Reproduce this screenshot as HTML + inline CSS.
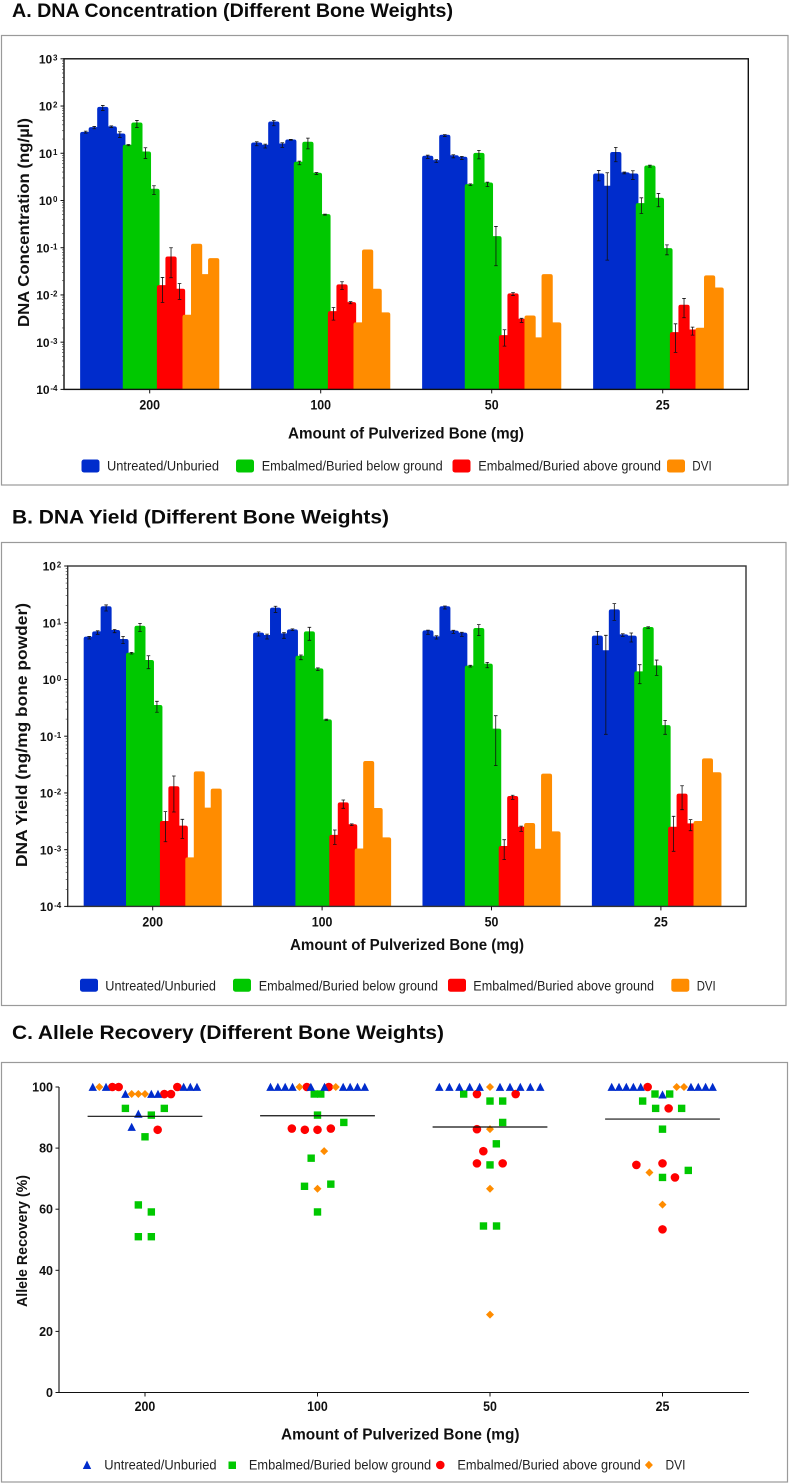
<!DOCTYPE html>
<html lang="en">
<head>
<meta charset="utf-8">
<title>DNA Concentration, Yield and Allele Recovery</title>
<style>
html,body{margin:0;padding:0;background:#fff;width:790px;height:1484px;overflow:hidden}
svg{display:block;filter:blur(0.3px)}
text{font-family:"Liberation Sans",Arial,sans-serif;fill:#111}
.ttl{font-size:19.5px;font-weight:bold;fill:#0a0a0a}
.axt{font-size:15.5px;font-weight:bold}
.leg{font-size:13.5px;fill:#222}
.frame{fill:#fff;stroke:#9a9a9a;stroke-width:1.2}
</style>
</head>
<body>
<svg id="page" xmlns="http://www.w3.org/2000/svg" width="790" height="1484" viewBox="0 0 790 1484">
  <rect width="790" height="1484" fill="#fff"/>

  <text class="ttl" x="12" y="17" textLength="441" lengthAdjust="spacingAndGlyphs">A. DNA Concentration (Different Bone Weights)</text>
  <rect class="frame" x="1.5" y="35.5" width="786.5" height="449.5"/>
  <g id="chartA"></g>
  <text class="axt" x="288" y="438.5" textLength="236" lengthAdjust="spacingAndGlyphs">Amount of Pulverized Bone (mg)</text>
  <text class="axt" transform="translate(29,327) rotate(-90)" textLength="209" lengthAdjust="spacingAndGlyphs">DNA Concentration (ng/µl)</text>
  <g>
    <rect x="81.5" y="459.5" width="18" height="13" rx="2.5" fill="#002ccc"/>
    <text class="leg" x="107" y="470.5" textLength="112" lengthAdjust="spacingAndGlyphs">Untreated/Unburied</text>
    <rect x="236" y="459.5" width="18" height="13" rx="2.5" fill="#00c800"/>
    <text class="leg" x="261.7" y="470.5" textLength="181" lengthAdjust="spacingAndGlyphs">Embalmed/Buried below ground</text>
    <rect x="452.5" y="459.5" width="18" height="13" rx="2.5" fill="#ff0000"/>
    <text class="leg" x="478.3" y="470.5" textLength="182.7" lengthAdjust="spacingAndGlyphs">Embalmed/Buried above ground</text>
    <rect x="667" y="459.5" width="18" height="13" rx="2.5" fill="#ff8c00"/>
    <text class="leg" x="692.3" y="470.5" textLength="19.4" lengthAdjust="spacingAndGlyphs">DVI</text>
  </g>

  <text class="ttl" x="12" y="523.5" textLength="377" lengthAdjust="spacingAndGlyphs">B. DNA Yield (Different Bone Weights)</text>
  <rect class="frame" x="1.5" y="542.5" width="784.5" height="463"/>
  <g id="chartB"></g>
  <text class="axt" x="290" y="950" textLength="234" lengthAdjust="spacingAndGlyphs">Amount of Pulverized Bone (mg)</text>
  <text class="axt" transform="translate(27,867) rotate(-90)" textLength="264" lengthAdjust="spacingAndGlyphs">DNA Yield (ng/mg bone powder)</text>
  <g>
    <rect x="80" y="978.7" width="18" height="13" rx="2.5" fill="#002ccc"/>
    <text class="leg" x="105.3" y="990.5" textLength="110.7" lengthAdjust="spacingAndGlyphs">Untreated/Unburied</text>
    <rect x="233" y="978.7" width="18" height="13" rx="2.5" fill="#00c800"/>
    <text class="leg" x="258.7" y="990.5" textLength="179.3" lengthAdjust="spacingAndGlyphs">Embalmed/Buried below ground</text>
    <rect x="448" y="978.7" width="18" height="13" rx="2.5" fill="#ff0000"/>
    <text class="leg" x="473.3" y="990.5" textLength="180.7" lengthAdjust="spacingAndGlyphs">Embalmed/Buried above ground</text>
    <rect x="671.3" y="978.7" width="18" height="13" rx="2.5" fill="#ff8c00"/>
    <text class="leg" x="696.7" y="990.5" textLength="19" lengthAdjust="spacingAndGlyphs">DVI</text>
  </g>

  <text class="ttl" x="12" y="1039" textLength="432" lengthAdjust="spacingAndGlyphs">C. Allele Recovery (Different Bone Weights)</text>
  <rect class="frame" x="1.5" y="1062.5" width="786" height="419.5"/>
  <g id="chartC"></g>
  <text class="axt" x="281" y="1439.5" textLength="238.5" lengthAdjust="spacingAndGlyphs">Amount of Pulverized Bone (mg)</text>
  <text class="axt" transform="translate(27,1307) rotate(-90)" textLength="132" lengthAdjust="spacingAndGlyphs" style="font-size:14.5px">Allele Recovery (%)</text>
  <g>
    <polygon points="87,1460.5 91.2,1469 82.8,1469" fill="#002ccc"/>
    <text class="leg" x="104.3" y="1469.3" textLength="112.3" lengthAdjust="spacingAndGlyphs">Untreated/Unburied</text>
    <rect x="228.5" y="1461.5" width="7.5" height="7.5" fill="#00c800"/>
    <text class="leg" x="248.9" y="1469.3" textLength="182.3" lengthAdjust="spacingAndGlyphs">Embalmed/Buried below ground</text>
    <circle cx="440.3" cy="1465" r="4.3" fill="#ff0000"/>
    <text class="leg" x="457.4" y="1469.3" textLength="183.4" lengthAdjust="spacingAndGlyphs">Embalmed/Buried above ground</text>
    <polygon points="648.9,1460.8 652.9,1465 648.9,1469.2 644.9,1465" fill="#ff8c00"/>
    <text class="leg" x="665.5" y="1469.3" textLength="20" lengthAdjust="spacingAndGlyphs">DVI</text>
  </g>
</svg>

<script>
// ---- shared categories ----
const boneWeights = ['200', '100', '50', '25'];
const seriesColors = ['#002ccc', '#00c800', '#ff0000', '#ff8c00'];
const seriesNames = ['untreated', 'below-ground', 'above-ground', 'dvi'];
const seriesBarCounts = [5, 4, 3, 4];

// ---- panel A: DNA concentration (ng/ul), one row per bone weight ----
const concMeans = [
  [28.4, 35.7, 96, 37, 26.2, 15.1, 44.9, 10.9, 1.77, 0.0161, 0.0653, 0.0135, 0.0038, 0.121, 0.0276, 0.0603],
  [16.9, 15.1, 47.1, 16.1, 19.6, 6.59, 17.5, 3.86, 0.514, 0.00455, 0.0167, 0.00705, 0.00262, 0.0918, 0.0135, 0.00427],
  [8.83, 7.16, 24.6, 9.1, 8.41, 2.22, 10.2, 2.41, 0.176, 0.00141, 0.0108, 0.00313, 0.00368, 0.00126, 0.0276, 0.00262],
  [3.73, 2.05, 10.6, 3.93, 3.73, 0.879, 5.52, 1.14, 0.098, 0.00163, 0.00619, 0.00186, 0.00202, 0.0259, 0.0144]
];
const concErrHigh = [
  [29.4, 37, 103, 38, 28.5, 15.3, 49.5, 13.1, 2.05, 0.0235, 0.0997, 0.0175],
  [17.5, 15.6, 49.4, 16.7, 19.7, 6.8, 20.9, 3.9, 0.515, 0.00543, 0.019, 0.0072],
  [9.1, 7.3, 24.8, 9.3, 8.6, 2.25, 11.5, 2.45, 0.282, 0.00183, 0.0112, 0.0032],
  [4.33, 3.86, 13.3, 4, 4.26, 1.14, 5.6, 1.41, 0.115, 0.00245, 0.00843, 0.00208]
];
const concErrLow = [
  [26.7, 33, 80.6, 35, 21.6, 14.4, 35.2, 7.76, 1.34, 0.00693, 0.0231, 0.008],
  [14.4, 12.9, 38.2, 13.3, 18.9, 5.7, 12.4, 3.56, 0.49, 0.00293, 0.0131, 0.0065],
  [7.76, 6.38, 22.7, 8, 7.4, 2.08, 7.6, 1.98, 0.0415, 0.000826, 0.00975, 0.00262],
  [2.61, 0.0546, 6.6, 3.67, 2.79, 0.531, 5.08, 0.736, 0.0708, 0.000607, 0.00329, 0.00141]
];
const concExponents = [3, 2, 1, 0, -1, -2, -3, -4];

// ---- panel B: DNA yield (ng/mg bone powder) ----
const yieldMeans = [
  [5.68, 7.05, 19.5, 7.45, 5.17, 2.96, 8.87, 2.2, 0.355, 0.0032, 0.0131, 0.00265, 0.00073, 0.024, 0.0055, 0.0119],
  [6.68, 6.08, 18.5, 6.5, 7.65, 2.62, 7.05, 1.57, 0.198, 0.00182, 0.00682, 0.0028, 0.00105, 0.0366, 0.00542, 0.00165],
  [7.35, 5.75, 19.5, 7.25, 6.68, 1.75, 8.07, 1.9, 0.136, 0.00116, 0.00883, 0.00254, 0.00295, 0.00104, 0.0219, 0.0021],
  [5.92, 3.27, 17.2, 6.25, 5.92, 1.39, 8.41, 1.77, 0.157, 0.00254, 0.0097, 0.00291, 0.0032, 0.0407, 0.0231]
];
const yieldErrHigh = [
  [5.75, 7.2, 20.6, 7.6, 5.75, 3, 9.75, 2.62, 0.412, 0.00468, 0.0199, 0.00343],
  [6.9, 6.3, 19.5, 6.68, 7.8, 2.7, 8.3, 1.6, 0.2, 0.00222, 0.0075, 0.00285],
  [7.4, 5.9, 19.7, 7.35, 6.8, 1.78, 9.25, 2, 0.23, 0.0015, 0.0091, 0.0026],
  [7.05, 6, 21.7, 6.4, 6.59, 1.82, 8.5, 2.2, 0.19, 0.00387, 0.0134, 0.00338]
];
const yieldErrLow = [
  [5.17, 6.25, 16.1, 6.68, 4.28, 2.81, 7.05, 1.55, 0.264, 0.00138, 0.00461, 0.00158],
  [5.83, 5.17, 15.2, 5.31, 7.3, 2.23, 4.9, 1.43, 0.19, 0.00124, 0.00536, 0.00265],
  [6.25, 5.17, 17.5, 6.5, 5.75, 1.66, 5.92, 1.61, 0.0303, 0.000667, 0.0077, 0.0021],
  [4.16, 0.108, 11, 5.75, 4.57, 0.843, 7.96, 1.18, 0.108, 0.000935, 0.00507, 0.00216]
];
const yieldExponents = [2, 1, 0, -1, -2, -3, -4];

// ---- panel C: allele recovery (%), values and beeswarm column per bone weight ----
const recoveryTicks = [0, 20, 40, 60, 80, 100];
const recoveryMeans = [90.4, 90.6, 86.9, 89.5];
const untreatedValues = [
  [100, 100, 100, 100, 100, 97.7, 97.7, 97.7, 91.2, 86.9],
  [100, 100, 100, 100, 100, 100, 100, 100, 100, 100],
  [100, 100, 100, 100, 100, 100, 100, 100, 100, 100],
  [100, 100, 100, 100, 100, 100, 100, 100, 100, 97.5]
];
const untreatedColumns = [
  [-8, -5.97, 5.92, 6.94, 7.96, -3, 0.97, 1.99, -1.02, -2.04],
  [-7.2, -6.07, -4.95, -3.83, -1.02, 1.07, 3.93, 5, 6.12, 7.24],
  [-7.76, -6.22, -4.69, -3.11, -1.58, 1.53, 3.06, 4.64, 6.17, 7.7],
  [-7.78, -6.66, -5.54, -4.46, -3.34, 4.36, 5.48, 6.6, 7.68, 0]
];
const belowGroundValues = [
  [93, 93, 90.8, 83.7, 61.4, 59.1, 51, 51],
  [97.7, 97.7, 90.8, 88.4, 76.7, 68.2, 67.5, 59.1],
  [97.7, 95.4, 95.4, 88.4, 81.4, 74.5, 54.5, 54.5],
  [97.7, 97.7, 95.4, 93, 93, 86.2, 72.7, 70.4]
];
const belowGroundColumns = [
  [-3, 2.96, 0.97, 0, -1.02, 0.97, -1.02, 0.97],
  [-0.5, 0.5, 0, 4.03, -0.97, 2.04, -1.99, 0],
  [-4.03, 0, 1.94, 1.94, 0.97, 0, -1, 1],
  [-1.15, 1.1, -3.04, -1.05, 2.93, 0, 3.95, 0]
];
const aboveGroundValues = [
  [100, 100, 100, 97.7, 97.7, 86],
  [100, 100, 86.4, 86, 86, 86.4],
  [97.7, 97.7, 86.2, 79, 75, 75],
  [100, 93, 75, 74.5, 70.4, 53.4]
];
const aboveGroundColumns = [
  [-5, -4.03, 4.95, 2.96, 3.98, 1.94],
  [-1.63, 1.73, -3.93, -1.94, 0, 2.04],
  [-2, 3.93, -2, -1.02, -2, 1.94],
  [-2.27, 0.94, 0, -4, 1.91, 0]
];
const dviValues = [
  [100, 97.7, 97.7, 97.7],
  [100, 100, 79, 66.7],
  [100, 86.2, 66.7, 25.5],
  [100, 100, 72, 61.5]
];
const dviColumns = [
  [-6.99, -2.04, -1.02, 0],
  [-2.76, 2.8, 1.02, 0],
  [0, 0, 0, 0],
  [2.17, 3.29, -2, 0]
];

// ---- helpers ----
const NS = 'http://www.w3.org/2000/svg';
function mk(parent, tag, attrs) {
  const el = document.createElementNS(NS, tag);
  for (const k in attrs) el.setAttribute(k, attrs[k]);
  parent.appendChild(el);
  return el;
}
function seriesOfBar(i) {
  let acc = 0;
  for (let s = 0; s < seriesBarCounts.length; s++) {
    acc += seriesBarCounts[s];
    if (i < acc) return s;
  }
  return seriesBarCounts.length - 1;
}

// ---- log bar chart ----
function drawLogChart(root, cfg) {
  const yScale = v => cfg.bottom - (Math.log10(v) - cfg.minExp) / (cfg.maxExp - cfg.minExp) * (cfg.bottom - cfg.top);
  const xGroup = g => cfg.firstCenter + g * cfg.groupStep;

  cfg.means.forEach((row, g) => {
    row.forEach((v, i) => {
      const s = seriesOfBar(i);
      const cx = xGroup(g) + (i - 7.5) * cfg.barStep;
      const x0 = cx - cfg.barWidth / 2, x1 = cx + cfg.barWidth / 2, yt = yScale(v), r = 2.2;
      const bar = mk(root, 'path', {
        d: 'M' + x0 + ' ' + cfg.bottom + 'V' + (yt + r) + 'Q' + x0 + ' ' + yt + ' ' + (x0 + r) + ' ' + yt +
           'H' + (x1 - r) + 'Q' + x1 + ' ' + yt + ' ' + x1 + ' ' + (yt + r) + 'V' + cfg.bottom + 'Z',
        fill: seriesColors[s]
      });
      
      
    });
  });
  cfg.means.forEach((row, g) => {
    cfg.high[g].forEach((hi, i) => {
      const lo = cfg.low[g][i];
      const cx = xGroup(g) + (i - 7.5) * cfg.barStep;
      const yh = yScale(hi), yl = yScale(lo), c = 1.8;
      const err = mk(root, 'path', {
        d: 'M' + cx + ' ' + yh + 'V' + yl + 'M' + (cx - c) + ' ' + yh + 'H' + (cx + c) + 'M' + (cx - c) + ' ' + yl + 'H' + (cx + c),
        stroke: '#111', 'stroke-width': 0.8, fill: 'none'
      });
      
      
    });
  });

  const frame = mk(root, 'rect', {
    x: cfg.left, y: cfg.top, width: cfg.right - cfg.left, height: cfg.bottom - cfg.top,
    fill: 'none', stroke: cfg.frameColor, 'stroke-width': 1.4
  });
  
  

  cfg.exponents.forEach(e => {
    const y = yScale(Math.pow(10, e));
    const tick = mk(root, 'line', { x1: cfg.left - 3.5, x2: cfg.left, y1: y, y2: y, stroke: '#111', 'stroke-width': 1 });
    
    
    if (e > cfg.minExp) {
      for (let m = 2; m <= 9; m++) {
        const ym = yScale(m * Math.pow(10, e - 1));
        const minor = mk(root, 'line', { x1: cfg.left - 2, x2: cfg.left, y1: ym, y2: ym, stroke: '#333', 'stroke-width': 0.6 });
        
        
      }
    }
    const label = mk(root, 'text', { x: cfg.left - 6.5, y: y + 4.6, 'text-anchor': 'end', 'font-size': 12, 'font-weight': 'bold' });
    
    
    label.appendChild(document.createTextNode('10'));
    const sup = mk(label, 'tspan', { dy: -3, 'font-size': 8, dx: 0.8 });
    sup.textContent = String(e);
  });

  boneWeights.forEach((name, g) => {
    const x = xGroup(g);
    const tick = mk(root, 'line', { x1: x, x2: x, y1: cfg.bottom, y2: cfg.bottom + 4, stroke: '#111', 'stroke-width': 1 });
    
    
    const label = mk(root, 'text', { x: x, y: cfg.tickBaseline, 'text-anchor': 'middle', 'font-size': 13.5, 'font-weight': 'bold', textLength: name.length * 6.9, lengthAdjust: 'spacingAndGlyphs' });
    
    
    label.textContent = name;
  });
}

drawLogChart(document.getElementById('chartA'), {
  left: 64, right: 748.3, top: 58.8, bottom: 389.4, minExp: -4, maxExp: 3,
  firstCenter: 149.7, groupStep: 171, barStep: 8.53, barWidth: 11.2,
  tickBaseline: 409.3, frameColor: '#111',
  means: concMeans, high: concErrHigh, low: concErrLow, exponents: concExponents
});
drawLogChart(document.getElementById('chartB'), {
  left: 67.7, right: 746, top: 566, bottom: 906.4, minExp: -4, maxExp: 2,
  firstCenter: 152.7, groupStep: 169.4, barStep: 8.47, barWidth: 11,
  tickBaseline: 926.7, frameColor: '#333',
  means: yieldMeans, high: yieldErrHigh, low: yieldErrLow, exponents: yieldExponents
});

// ---- panel C: scatter ----
(function () {
  const root = document.getElementById('chartC');
  const left = 59, right = 749, y100 = 1087, y0 = 1392.5;
  const yScale = v => y0 - v / 100 * (y0 - y100);
  const xGroup = g => 145 + g * 172.5;
  const xCol = (g, c) => xGroup(g) + c * 6.53;

  boneWeights.forEach((name, g) => {
    belowGroundValues[g].forEach((v, i) => {
      const cx = xCol(g, belowGroundColumns[g][i]), cy = yScale(v);
      const m = mk(root, 'rect', { x: cx - 3.7, y: cy - 3.7, width: 7.4, height: 7.4, fill: '#00c800' });
      
      
    });
    aboveGroundValues[g].forEach((v, i) => {
      const cx = xCol(g, aboveGroundColumns[g][i]), cy = yScale(v);
      const m = mk(root, 'circle', { cx: cx, cy: cy, r: 4.3, fill: '#ff0000' });
      
      
    });
    untreatedValues[g].forEach((v, i) => {
      const cx = xCol(g, untreatedColumns[g][i]), cy = yScale(v);
      const m = mk(root, 'polygon', {
        points: cx + ',' + (cy - 4.3) + ' ' + (cx + 4.2) + ',' + (cy + 3.9) + ' ' + (cx - 4.2) + ',' + (cy + 3.9),
        fill: '#002ccc'
      });
      
      
    });
    dviValues[g].forEach((v, i) => {
      const cx = xCol(g, dviColumns[g][i]), cy = yScale(v);
      const m = mk(root, 'polygon', {
        points: cx + ',' + (cy - 4) + ' ' + (cx + 4) + ',' + cy + ' ' + cx + ',' + (cy + 4) + ' ' + (cx - 4) + ',' + cy,
        fill: '#ff8c00'
      });
      
      
    });
    const my = yScale(recoveryMeans[g]);
    const mean = mk(root, 'line', { x1: xGroup(g) - 57.4, x2: xGroup(g) + 57.4, y1: my, y2: my, stroke: '#111', 'stroke-width': 1.2 });
    
    

    const x = xGroup(g);
    const tick = mk(root, 'line', { x1: x, x2: x, y1: y0, y2: y0 + 4, stroke: '#111', 'stroke-width': 1 });
    
    
    const label = mk(root, 'text', { x: x, y: 1411, 'text-anchor': 'middle', 'font-size': 13.5, 'font-weight': 'bold', textLength: name.length * 6.9, lengthAdjust: 'spacingAndGlyphs' });
    
    
    label.textContent = name;
  });

  const yAxis = mk(root, 'line', { x1: left, x2: left, y1: y100, y2: y0, stroke: '#111', 'stroke-width': 1.1 });
  
  
  const xAxis = mk(root, 'line', { x1: left - 3.5, x2: right, y1: y0, y2: y0, stroke: '#111', 'stroke-width': 1.1 });
  
  

  recoveryTicks.forEach(v => {
    const y = yScale(v);
    const tick = mk(root, 'line', { x1: left - 3.5, x2: left, y1: y, y2: y, stroke: '#111', 'stroke-width': 1 });
    
    
    const label = mk(root, 'text', { x: left - 6, y: y + 4.5, 'text-anchor': 'end', 'font-size': 12.5, 'font-weight': 'bold' });
    
    
    label.textContent = String(v);
  });
})();
</script>
</body>
</html>
